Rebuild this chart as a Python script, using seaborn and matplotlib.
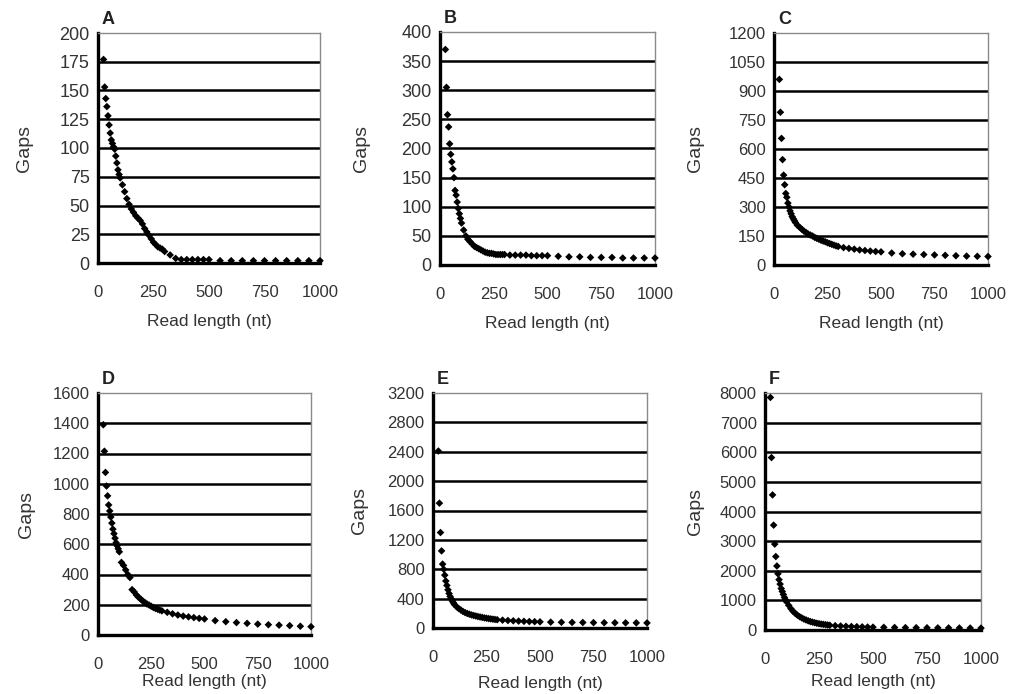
import numpy as np
import pandas as pd
import matplotlib
matplotlib.use("Agg")
import matplotlib.pyplot as plt
from matplotlib.ticker import MultipleLocator
import seaborn as sns

# read lengths (nt)
read_length = [25, 30, 35, 40, 45, 50, 55, 60, 65, 70, 75, 80, 85, 90, 95, 100,
               110, 120, 130, 140, 150, 160, 170, 180, 190, 200,
               210, 220, 230, 240, 250, 260, 270, 280, 290, 300,
               325, 350, 375, 400, 425, 450, 475, 500,
               550, 600, 650, 700, 750, 800, 850, 900, 950, 1000]

gaps_a = [177, 153, 143, 136, 128, 120, 113, 107, 104, 101, 99, 93, 87, 81, 77, 74,
          68, 62, 56, 51, 47, 44, 41, 39, 37, 34,
          30, 27, 24, 21, 18, 16, 14, 13, 12, 10,
          7, 4, 3, 3, 3, 3, 3, 3,
          2, 2, 2, 2, 2, 2, 2, 2, 2, 2]
gaps_b = [370, 305, 258, 237, 208, 190, 177, 165, 150, 128, 120, 108, 97, 88, 80, 72,
          60, 50, 44, 40, 36, 32, 30, 28, 26, 24,
          22, 21, 20, 20, 19, 18, 18, 18, 18, 18,
          17, 17, 17, 17, 16, 16, 16, 16,
          15, 14, 14, 13, 13, 13, 12, 12, 12, 12]
gaps_c = [960, 790, 655, 545, 465, 415, 370, 350, 320, 300, 280, 265, 250, 240, 230, 220,
          205, 195, 185, 175, 168, 160, 155, 150, 143, 138,
          133, 128, 124, 120, 115, 111, 107, 103, 99, 96,
          90, 86, 82, 78, 75, 72, 70, 68,
          62, 58, 56, 54, 52, 50, 48, 46, 45, 44]
gaps_d = [1390, 1215, 1075, 985, 920, 860, 820, 780, 740, 700, 670, 640, 610, 590, 570, 550,
          480, 460, 430, 400, 380, 300, 285, 265, 250, 238,
          225, 215, 205, 198, 190, 182, 176, 170, 165, 160,
          150, 140, 132, 125, 120, 115, 110, 106,
          95, 88, 82, 77, 72, 68, 65, 62, 58, 55]
gaps_e = [2410, 1700, 1300, 1050, 870, 800, 720, 640, 580, 520, 470, 430, 400, 370, 345, 320,
          290, 265, 245, 225, 210, 198, 188, 178, 170, 163,
          156, 150, 144, 138, 133, 128, 124, 120, 116, 113,
          107, 102, 98, 94, 91, 88, 86, 84,
          80, 78, 76, 75, 73, 72, 71, 70, 70, 69]
gaps_f = [7850, 5820, 4560, 3540, 2900, 2480, 2160, 1900, 1700, 1550, 1400, 1300, 1200, 1100, 1020, 950,
          830, 720, 630, 560, 500, 450, 410, 370, 340, 310,
          285, 265, 245, 228, 213, 200, 190, 180, 170, 160,
          145, 135, 125, 118, 112, 106, 100, 96,
          90, 85, 80, 78, 75, 72, 70, 68, 66, 64]

panel_names = ["A", "B", "C", "D", "E", "F"]
panel_gaps = [gaps_a, gaps_b, gaps_c, gaps_d, gaps_e, gaps_f]
y_max = [200, 400, 1200, 1600, 3200, 8000]
y_step = [25, 50, 150, 200, 400, 1000]

# layout in pixels: axes box (left, top, right, bottom), ylabel centre x, xlabel top y
boxes = [(98, 33, 320, 263), (440, 32, 655, 265), (774, 33, 988, 265),
         (98, 393, 311, 635), (433, 393, 647, 628), (765, 393, 981, 630)]
ylabel_x = [25, 362, 696, 27, 360, 696]
xlabel_top = [314, 316, 316, 674, 676, 674]
ytick_size = [13, 13, 12, 12, 12, 12]

sns.set_style("white")
plt.rcParams["font.family"] = ["Liberation Sans", "DejaVu Sans"]
text_col = "#333333"

W, H = 1016, 694
fig = plt.figure(figsize=(W / 100, H / 100), dpi=100)

for i, name in enumerate(panel_names):
    l, t, r, b = boxes[i]
    ymax, ystep = y_max[i], y_step[i]
    aw, ah = r - l, b - t
    ax = fig.add_axes([l / W, 1 - b / H, aw / W, ah / H])
    df = pd.DataFrame({"read_length": read_length, "gaps": panel_gaps[i]})
    sns.scatterplot(data=df, x="read_length", y="gaps", ax=ax, color="black",
                    marker="D", s=15, edgecolor="none", zorder=3, clip_on=False)
    ax.set_xlim(0, 1000)
    ax.set_ylim(0, ymax)
    ax.xaxis.set_major_locator(MultipleLocator(250))
    ax.xaxis.set_minor_locator(MultipleLocator(50))
    ax.yaxis.set_major_locator(MultipleLocator(ystep))
    for yv in np.arange(ystep, ymax, ystep):
        ax.axhline(yv, color="black", lw=1.8, zorder=1)
    ax.tick_params(axis="x", which="major", direction="inout", length=7, width=1.3,
                   pad=12, labelsize=12, labelcolor=text_col)
    ax.tick_params(axis="x", which="minor", direction="in", length=4, width=1.3)
    ax.tick_params(axis="y", which="major", direction="in", length=4, width=1.3,
                   pad=6, labelsize=ytick_size[i], labelcolor=text_col)
    for side in ["left", "bottom"]:
        ax.spines[side].set_color("black")
        ax.spines[side].set_linewidth(2.4)
    for side in ["top", "right"]:
        ax.spines[side].set_color("#8a8a8a")
        ax.spines[side].set_linewidth(1.0)
    ax.set_xlabel("Read length (nt)", fontsize=12.5, color=text_col)
    ax.set_ylabel("Gaps", fontsize=14, color=text_col)
    # place labels where the reference has them
    ax.xaxis.set_label_coords(0.5, -(xlabel_top[i] - b) / ah)
    ax.yaxis.set_label_coords((ylabel_x[i] + 8 - l) / aw, 0.5)
    ax.text(4 / aw, 1 + 5 / ah, name, transform=ax.transAxes, fontsize=13,
            fontweight="bold", color="#222222", ha="left", va="bottom")

fig.savefig("out.png", dpi=100, facecolor="white")
